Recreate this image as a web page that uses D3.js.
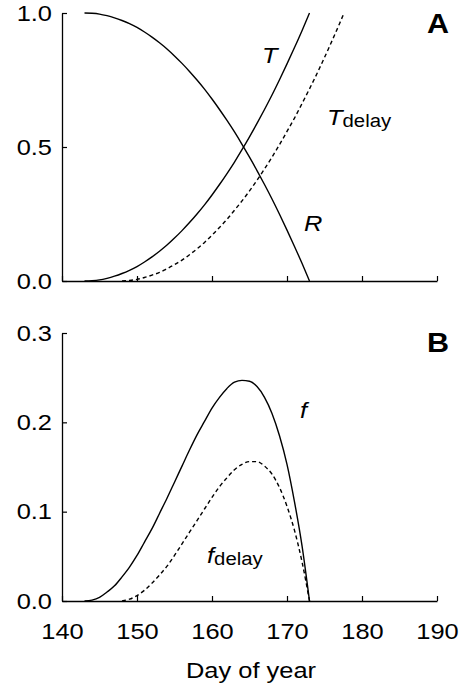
<!DOCTYPE html>
<html><head><meta charset="utf-8">
<script src="https://cdn.jsdelivr.net/npm/d3@7"></script>
<style>body{margin:0;background:#fff}svg{display:block}text{font-family:"Liberation Sans",Arial,sans-serif}</style>
</head><body>
<script>
// Data
const days = [143,144,145,146,147,148,149,150,151,152,153,154,155,156,157,158,159,160,161,162,163,164,165,166,167,168,169,170,171,172,173];
const T = [0,0.001,0.004,0.010,0.018,0.028,0.040,0.054,0.071,0.090,0.111,0.134,0.160,0.188,0.218,0.250,0.284,0.321,0.360,0.401,0.444,0.490,0.538,0.588,0.640,0.694,0.751,0.810,0.871,0.934,1.000];
const R = [1,0.999,0.996,0.990,0.982,0.972,0.960,0.946,0.929,0.910,0.889,0.866,0.840,0.812,0.782,0.750,0.716,0.679,0.640,0.599,0.556,0.510,0.462,0.412,0.360,0.306,0.249,0.190,0.129,0.066,0];
const daysDelay = [148,149,150,151,152,153,154,155,156,157,158,159,160,161,162,163,164,165,166,167,168,169,170,171,172,173,174,175,176,177,177.6];
const Tdelay = [0.0002,0.002,0.006,0.013,0.022,0.032,0.046,0.061,0.078,0.098,0.120,0.144,0.171,0.200,0.230,0.264,0.299,0.336,0.376,0.418,0.462,0.509,0.558,0.608,0.662,0.717,0.774,0.834,0.896,0.960,1.000];
const f = [0,0.001,0.004,0.010,0.017,0.027,0.038,0.051,0.066,0.081,0.098,0.115,0.133,0.151,0.169,0.186,0.201,0.216,0.228,0.238,0.245,0.247,0.246,0.240,0.228,0.210,0.185,0.153,0.111,0.062,0];
const daysFd = [148,149,150,151,152,153,154,155,156,157,158,159,160,161,162,163,164,165,166,167,168,169,170,171,172,173];
const fdelay = [0.0002,0.002,0.006,0.012,0.020,0.029,0.039,0.051,0.064,0.077,0.090,0.103,0.116,0.128,0.138,0.147,0.153,0.156,0.156,0.151,0.142,0.127,0.106,0.079,0.044,0];
const xTicks = [140,150,160,170,180,190];
const yTicksA = [0,0.5,1.0];
const yTicksB = [0,0.1,0.2,0.3];

const W=462,H=689, FS=22.5, STRETCH=1.13;
const svg=d3.select("body").append("svg").attr("width",W).attr("height",H);
const x=d3.scaleLinear().domain([140,190]).range([62,437]);
const yA=d3.scaleLinear().domain([0,1]).range([281,13]);
const yB=d3.scaleLinear().domain([0,0.3]).range([601,333]);

function panel(y,ticks,fmt,showX){
  const gx=svg.append("g").attr("transform",`translate(0,${y.range()[0]})`)
    .call(d3.axisBottom(x).tickValues(xTicks).tickSizeInner(-5).tickSizeOuter(0).tickPadding(22).tickFormat(showX?d3.format("d"):""));
  const gy=svg.append("g").attr("transform",`translate(${x.range()[0]},0)`)
    .call(d3.axisLeft(y).tickValues(ticks).tickSizeInner(-5).tickSizeOuter(0).tickPadding(10).tickFormat(fmt));
  [gx,gy].forEach(g=>{g.select(".domain").attr("stroke","#000").attr("stroke-width",1.3);
    g.selectAll(".tick line").attr("stroke","#000").attr("stroke-width",1.2);
    g.selectAll("text").attr("font-size",FS).attr("fill","#000").attr("font-family","Liberation Sans, Arial, sans-serif");});
}
panel(yA,yTicksA,d3.format(".1f"),false);
panel(yB,yTicksB,d3.format(".1f"),true);

function line(xs,ys,y,dash){
  const pts=xs.map((d,i)=>[d,ys[i]]);
  svg.append("path").datum(pts).attr("fill","none").attr("stroke","#000").attr("stroke-width",1.4)
    .attr("stroke-dasharray",dash?"4,3":null)
    .attr("d",d3.line().x(p=>x(p[0])).y(p=>y(p[1])).curve(d3.curveMonotoneX));
}
line(days,R,yA,false);
line(days,T,yA,false);
line(daysDelay,Tdelay,yA,true);
line(days,f,yB,false);
line(daysFd,fdelay,yB,true);

function label(px,py,main,sub){
  const t=svg.append("text").attr("x",px).attr("y",py).attr("font-size",FS).attr("fill","#000");
  t.append("tspan").attr("font-style","italic").text(main);
  if(sub) t.append("tspan").attr("font-size",18).attr("dy",2).text(sub);
}
label(262,63,"T");
label(327,125,"T","delay");
label(304,231,"R");
label(300,418,"f");
label(207,563,"f","delay");

svg.append("text").attr("x",427).attr("y",33).attr("font-size",27).attr("font-weight","bold").text("A");
svg.append("text").attr("x",427).attr("y",352).attr("font-size",27).attr("font-weight","bold").text("B");
svg.append("text").attr("x",251).attr("y",678).attr("text-anchor","middle").attr("font-size",FS).text("Day of year");

// slight horizontal stretch of all text to match the reference's wide glyphs
svg.selectAll("text").each(function(){
  const L=this.getComputedTextLength();
  if(L>0) d3.select(this).attr("textLength",L*STRETCH).attr("lengthAdjust","spacingAndGlyphs");
});
</script>
</body></html>
